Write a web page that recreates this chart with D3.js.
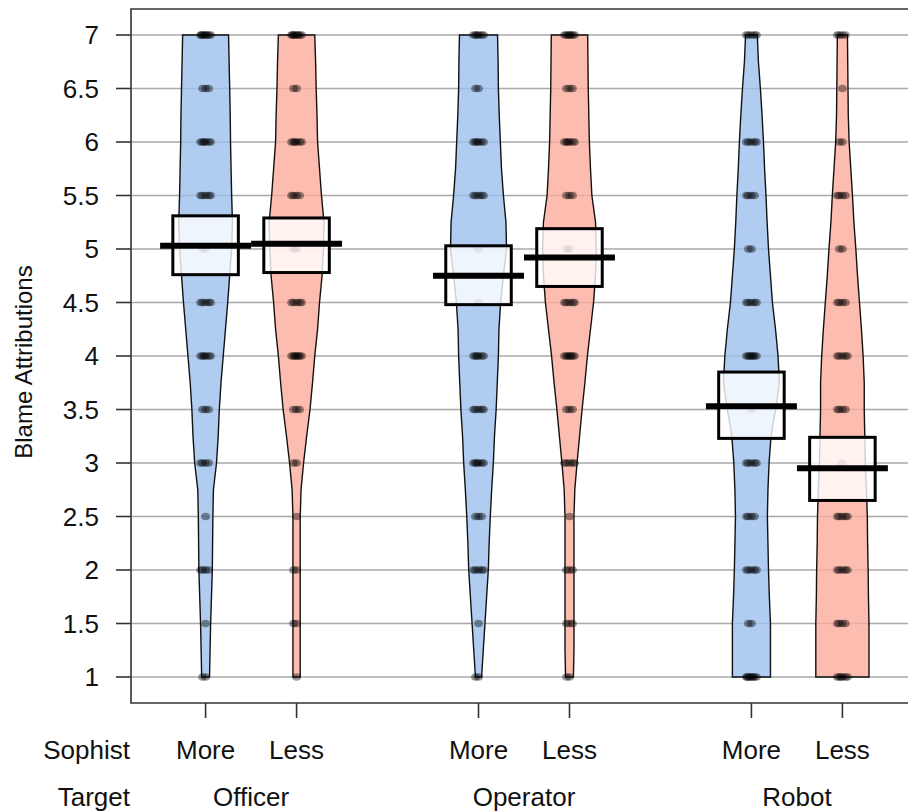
<!DOCTYPE html>
<html>
<head>
<meta charset="utf-8">
<script src="https://cdn.jsdelivr.net/npm/d3@7"></script>
<style>
  body { margin: 0; background: #fff; }
  text { font-family: Arial, "Liberation Sans", sans-serif; fill: #111; }
</style>
</head>
<body>
<div id="chart"></div>
<script>
// groups and sub-groups
var targets = ["Officer", "Operator", "Robot"];
var sophist = ["More", "Less"];
var yTicks = [1, 1.5, 2, 2.5, 3, 3.5, 4, 4.5, 5, 5.5, 6, 6.5, 7];

// bean order: Officer-More, Officer-Less, Operator-More, Operator-Less, Robot-More, Robot-Less
var means = [5.03, 5.05, 4.75, 4.92, 3.53, 2.95];
var lower = [4.76, 4.78, 4.48, 4.65, 3.23, 2.65];
var upper = [5.31, 5.29, 5.03, 5.19, 3.85, 3.24];

// relative density of each bean, at 1, 1.25, ... 7
var densLevels = [1, 1.25, 1.5, 1.75, 2, 2.25, 2.5, 2.75, 3, 3.25, 3.5, 3.75, 4,
                  4.25, 4.5, 4.75, 5, 5.25, 5.5, 5.75, 6, 6.25, 6.5, 6.75, 7];
var densOfficerMore  = [.14, .16, .18, .21, .24, .25, .26, .28, .39, .45, .49, .55, .63, .71, .79, .86, .93, .96, .93, .91, .89, .88, .86, .84, .82];
var densOfficerLess  = [.13, .13, .13, .13, .13, .13, .13, .16, .25, .36, .48, .57, .65, .75, .82, .91, .96, .98, .89, .82, .75, .73, .70, .68, .65];
var densOperatorMore = [.11, .17, .23, .29, .35, .38, .42, .47, .53, .57, .63, .67, .71, .73, .79, .89, 1.0, .98, .89, .82, .78, .74, .71, .70, .68];
var densOperatorLess = [.14, .16, .16, .16, .16, .16, .16, .19, .27, .36, .45, .55, .64, .75, .86, .93, .96, .93, .80, .75, .71, .69, .67, .66, .65];
var densRobotMore    = [.68, .68, .68, .64, .61, .59, .57, .59, .63, .70, .86, 1.0, .95, .86, .75, .68, .61, .56, .52, .47, .43, .38, .32, .25, .21];
var densRobotLess    = [.95, .95, .95, .93, .92, .90, .89, .86, .82, .80, .78, .78, .74, .68, .61, .54, .48, .41, .36, .30, .24, .21, .20, .19, .18];
var densities = [densOfficerMore, densOfficerLess, densOperatorMore, densOperatorLess, densRobotMore, densRobotLess];

// number of raw responses at each scale point 1, 1.5, ... 7
var countsOfficerMore  = [2, 1, 4, 1, 4, 3, 6, 5, 2, 5, 6, 3, 8];
var countsOfficerLess  = [1, 2, 2, 1, 2, 3, 7, 5, 2, 4, 6, 2, 8];
var countsOperatorMore = [2, 1, 5, 3, 6, 5, 6, 1, 1, 5, 6, 2, 6];
var countsOperatorLess = [2, 3, 3, 1, 5, 3, 7, 5, 2, 3, 6, 3, 7];
var countsRobotMore    = [8, 2, 5, 4, 5, 1, 7, 5, 2, 4, 5, 0, 5];
var countsRobotLess    = [6, 4, 5, 5, 1, 4, 5, 4, 2, 4, 2, 1, 4];
var counts = [countsOfficerMore, countsOfficerLess, countsOperatorMore, countsOperatorLess, countsRobotMore, countsRobotLess];

(function () {
  "use strict";

  var W = 908, H = 812;
  var left = 131, right = 917, top = 9, bottom = 703;
  var fills = ["#9cbfec", "#fbab9c"];

  var beans = [];
  targets.forEach(function (t, ti) {
    sophist.forEach(function (s, si) {
      var i = ti * 2 + si;
      beans.push({
        target: t, soph: s, idx: i, pos: ti * 3 + si + 1,
        mean: means[i], lo: lower[i], hi: upper[i],
        dens: densities[i], counts: counts[i], fill: fills[si]
      });
    });
  });

  var x = d3.scaleLinear().domain([0.18, 8.82]).range([left, right]);
  var y = d3.scaleLinear().domain([0.757, 7.243]).range([bottom, top]);
  var hw = d3.scaleLinear().domain([0, 1]).range([0, 28]);

  var svg = d3.select("#chart").append("svg")
    .attr("width", W).attr("height", H);

  svg.append("defs").append("clipPath").attr("id", "plotClip")
    .append("rect").attr("x", left).attr("y", top)
    .attr("width", right - left).attr("height", bottom - top);

  var plot = svg.append("g").attr("clip-path", "url(#plotClip)");

  // horizontal grid
  plot.append("g").selectAll("line").data(yTicks).join("line")
    .attr("x1", left).attr("x2", right)
    .attr("y1", function (d) { return y(d); })
    .attr("y2", function (d) { return y(d); })
    .attr("stroke", "#a8a8a8").attr("stroke-width", 1.6);

  // beans
  var area = d3.area()
    .y(function (d) { return y(d.v); });

  plot.append("g").selectAll("path").data(beans).join("path")
    .attr("d", function (b) {
      var pts = densLevels.map(function (v, k) { return { v: v, d: b.dens[k] }; });
      return area
        .x0(function (d) { return x(b.pos) - hw(d.d); })
        .x1(function (d) { return x(b.pos) + hw(d.d); })(pts);
    })
    .attr("fill", function (b) { return b.fill; })
    .attr("fill-opacity", 0.8)
    .attr("stroke", "#111")
    .attr("stroke-width", 1.4);

  // raw points
  var jit = [0, -3, 3, -5, 5, -1.5, 1.5, -4, 4];
  var pts = [];
  beans.forEach(function (b) {
    b.counts.forEach(function (n, k) {
      for (var j = 0; j < n; j++) pts.push({ pos: b.pos, v: yTicks[k], dx: jit[j % jit.length] });
    });
  });
  plot.append("g").selectAll("ellipse").data(pts).join("ellipse")
    .attr("cx", function (d) { return x(d.pos) + d.dx; })
    .attr("cy", function (d) { return y(d.v); })
    .attr("rx", 4.4).attr("ry", 3.8)
    .attr("fill", "#000").attr("fill-opacity", 0.4);

  // inference boxes
  var boxHalf = 0.36, lineHalf = 0.5;
  plot.append("g").selectAll("rect").data(beans).join("rect")
    .attr("x", function (b) { return x(b.pos - boxHalf); })
    .attr("width", function (b) { return x(b.pos + boxHalf) - x(b.pos - boxHalf); })
    .attr("y", function (b) { return y(b.hi); })
    .attr("height", function (b) { return y(b.lo) - y(b.hi); })
    .attr("fill", "#fff").attr("fill-opacity", 0.8)
    .attr("stroke", "#000").attr("stroke-width", 3);

  // means
  plot.append("g").selectAll("line").data(beans).join("line")
    .attr("x1", function (b) { return x(b.pos - lineHalf); })
    .attr("x2", function (b) { return x(b.pos + lineHalf); })
    .attr("y1", function (b) { return y(b.mean); })
    .attr("y2", function (b) { return y(b.mean); })
    .attr("stroke", "#000").attr("stroke-width", 6);

  // frame (right side runs off the picture)
  svg.append("path")
    .attr("d", "M" + right + "," + top + "H" + left + "V" + bottom + "H" + right)
    .attr("fill", "none").attr("stroke", "#333").attr("stroke-width", 1.6);

  // y axis
  var yAxis = svg.append("g");
  yAxis.selectAll("line").data(yTicks).join("line")
    .attr("x1", 116).attr("x2", left)
    .attr("y1", function (d) { return y(d); })
    .attr("y2", function (d) { return y(d); })
    .attr("stroke", "#333").attr("stroke-width", 1.6);
  yAxis.selectAll("text").data(yTicks).join("text")
    .attr("x", 99)
    .attr("y", function (d) { return y(d); })
    .attr("dy", "0.36em")
    .attr("text-anchor", "end")
    .attr("font-size", 26)
    .text(function (d) { return d; });

  svg.append("text")
    .attr("transform", "translate(32,362) rotate(-90)")
    .attr("text-anchor", "middle")
    .attr("font-size", 24)
    .text("Blame Attributions");

  // x axis ticks and labels
  svg.append("g").selectAll("line").data(beans).join("line")
    .attr("x1", function (b) { return x(b.pos); })
    .attr("x2", function (b) { return x(b.pos); })
    .attr("y1", bottom).attr("y2", 718)
    .attr("stroke", "#333").attr("stroke-width", 1.6);

  svg.append("g").selectAll("text").data(beans).join("text")
    .attr("x", function (b) { return x(b.pos); })
    .attr("y", 759)
    .attr("text-anchor", "middle")
    .attr("font-size", 26)
    .text(function (b) { return b.soph; });

  svg.append("g").selectAll("text").data(targets).join("text")
    .attr("x", function (t, i) { return x(i * 3 + 1.5); })
    .attr("y", 806)
    .attr("text-anchor", "middle")
    .attr("font-size", 26)
    .text(function (t) { return t; });

  svg.append("text").attr("x", 130).attr("y", 759)
    .attr("text-anchor", "end").attr("font-size", 26).text("Sophist");
  svg.append("text").attr("x", 130).attr("y", 806)
    .attr("text-anchor", "end").attr("font-size", 26).text("Target");
})();
</script>
</body>
</html>
